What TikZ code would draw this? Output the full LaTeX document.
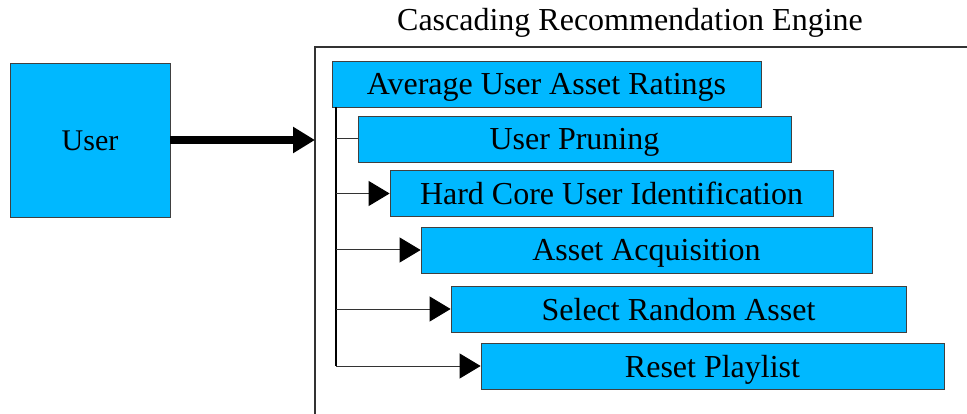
\documentclass[tikz,border=0pt]{standalone}
\usepackage{fontspec}
\setmainfont{Liberation Serif}
\usepackage{xcolor}
\usetikzlibrary{arrows.meta}
\usetikzlibrary{positioning}
\definecolor{boxblue}{RGB}{0,184,255}

\begin{document}
\begin{tikzpicture}[x=1pt,y=-1pt,
	stagebox/.style={draw=black!75,line width=0.8pt,fill=boxblue,minimum height=46pt,inner sep=0pt,
		text height=25pt,text depth=3pt,font=\fontsize{32}{38}\selectfont},
	branch/.style={line width=1pt,black!80},
	branchtip/.style={branch,-{Triangle[length=21pt,width=25pt,color=black]}}]
					\useasboundingbox (0,0) rectangle (967,414);
					% Frame of the engine
					\draw[line width=1.2pt,black!80] (315,414) -- (315,47) -- (967,47);
					\node[anchor=base,font=\fontsize{32}{38}\selectfont] (title) at (630,31) {Cascading Recommendation Engine};
					
					% User
					\node[stagebox,minimum width=160pt,minimum height=154pt,font=\fontsize{30}{36}\selectfont] (user) at (90,140) {User};
					\coordinate (enginein) at (315,140);
					\draw[line width=8pt,-{Triangle[length=22pt,width=25pt]}] (user.east) -- (enginein);
					
					% Stages
					\node[stagebox,minimum width=429pt] (avg) at (546.5,84) {Average User Asset Ratings};
					\node[stagebox,minimum width=433pt] (prune) at (574.5,139) {User Pruning};
					\node[stagebox,minimum width=443pt] (hard) at (611.5,193.5) {Hard Core User Identification};
					\node[stagebox,minimum width=451pt] (acq) at (646.5,250) {Asset Acquisition};
					\node[stagebox,minimum width=455pt] (rand) at (678.5,309) {Select Random Asset};
					\node[stagebox,minimum width=463pt] (reset) at (712.5,366) {Reset Playlist};
					
					% Branches
					\coordinate (trunk) at (336,107);
					\draw[line width=1.5pt] (trunk) -- (trunk |- reset.west);
					\draw[branch] (trunk |- prune.west) -- (prune.west);
					\foreach \s in {hard,acq,rand,reset} {
						\draw[branchtip] (trunk |- \s.west) -- (\s.west);
					}
				\end{tikzpicture}
\end{document}
